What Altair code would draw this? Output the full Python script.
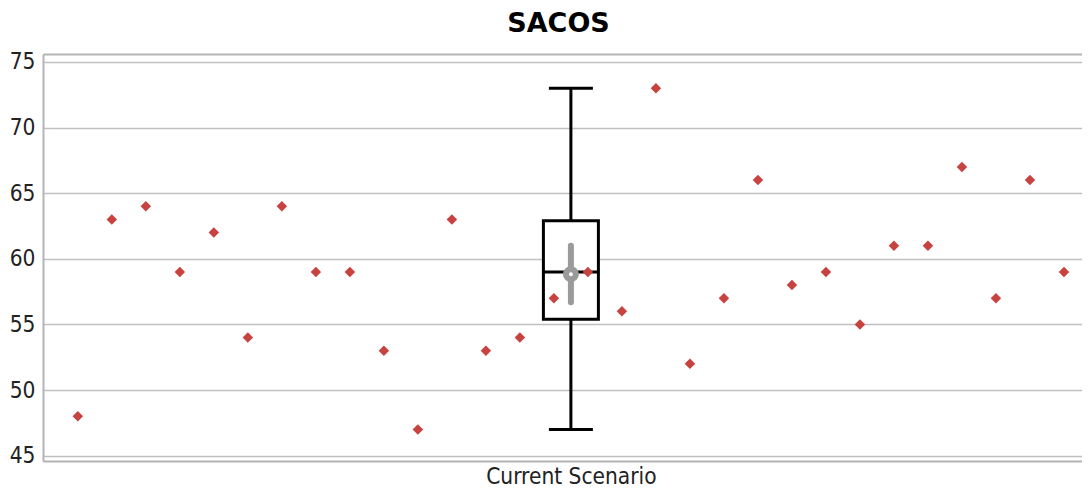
import altair as alt
import pandas as pd

# ---------------- data ----------------
title_text = "SACOS"
categories = ["Current Scenario"]
run_index = list(range(30))
sacos_values = [48, 63, 64, 59, 62, 54, 64, 59, 59, 53, 47, 63, 53, 54, 57,
                59, 56, 73, 52, 57, 66, 58, 59, 55, 61, 61, 67, 57, 66, 59]
y_ticks = [45, 50, 55, 60, 65, 70, 75]

whisker_low = [47]
q1 = [55.4]
median = [59]
q3 = [62.9]
whisker_high = [73]
mean = [58.83]
ci_low = [56.7]
ci_high = [61.0]

# ---------------- tables ----------------
center = (len(run_index) - 1) / 2
points = pd.DataFrame({"run": run_index, "value": sacos_values})
box = pd.DataFrame({
    "pos": [center], "category": categories,
    "lo": whisker_low, "q1": q1, "med": median, "q3": q3, "hi": whisker_high,
    "mean": mean, "ci_lo": ci_low, "ci_hi": ci_high,
})

LABEL_FONT = "DejaVu Sans Condensed, Liberation Sans, sans-serif"
TEXT_COLOR = "#222222"
FRAME = "#b4b4b4"

x_scale = alt.Scale(domain=[-1.024, 29.53], nice=False, zero=False, padding=0)
y_scale = alt.Scale(domain=[44.6, 75.6], nice=False, zero=False, padding=0)

x_axis_bottom = alt.Axis(values=[center], labelExpr="'" + categories[0] + "'",
                         title=None, grid=False, ticks=False, domain=True,
                         domainColor=FRAME, domainWidth=2, labelFont=LABEL_FONT,
                         labelFontSize=22.5, labelColor=TEXT_COLOR, labelPadding=4,
                         labelAngle=0, orient="bottom")
x_axis_top = alt.Axis(values=[center], labels=False, title=None, grid=False,
                      ticks=False, domain=True, domainColor=FRAME, domainWidth=2,
                      orient="top")
y_axis = alt.Axis(values=y_ticks, title=None, grid=True, gridColor="#c0c0c0",
                  gridWidth=1.5, ticks=False, domain=True, domainColor=FRAME,
                  domainWidth=2, labelFont=LABEL_FONT, labelFontSize=22.5,
                  labelColor=TEXT_COLOR, labelPadding=8)


def X(field, axis=None):
    return alt.X(field, type="quantitative", scale=x_scale, axis=axis)


def Y(field):
    return alt.Y(field, type="quantitative", scale=y_scale, axis=y_axis)


whisker = alt.Chart(box).mark_rule(color="black", strokeWidth=3).encode(
    x=X("pos", x_axis_top), y=Y("lo"), y2="hi")

box_rect = alt.Chart(box).mark_bar(size=55, fill="white", stroke="black",
                                   strokeWidth=3).encode(
    x=X("pos"), y=Y("q1"), y2="q3")

caps = alt.Chart(box).transform_fold(["lo", "hi"], as_=["end", "level"]).mark_tick(
    orient="horizontal", size=44, thickness=3, color="black", opacity=1).encode(
    x=X("pos"), y=Y("level"))

med_line = alt.Chart(box).mark_tick(
    orient="horizontal", size=55, thickness=3, color="black", opacity=1).encode(
    x=X("pos"), y=Y("med"))

pts = alt.Chart(points).mark_point(shape="diamond", filled=True, size=110,
                                   color="#c8423f", opacity=1).encode(
    x=X("run", x_axis_bottom), y=Y("value"))

ci = alt.Chart(box).mark_rule(color="#9a9a9a", strokeWidth=6, strokeCap="round").encode(
    x=X("pos"), y=Y("ci_lo"), y2="ci_hi")

mean_pt = alt.Chart(box).mark_point(shape="circle", filled=True, fill="white",
                                    stroke="#9a9a9a", strokeWidth=6, size=100,
                                    opacity=1).encode(
    x=X("pos"), y=Y("mean"))

chart = alt.layer(whisker, box_rect, caps, med_line, pts, ci, mean_pt).resolve_axis(
    x="independent"
).properties(
    width=1039,
    height=407,
    title=alt.TitleParams(title_text, font="DejaVu Sans", fontWeight="bold",
                          fontSize=27, color="black", anchor="middle", dx=-4,
                          offset=13),
    padding={"left": 1, "top": 1, "right": 0, "bottom": 0},
).configure_view(
    strokeWidth=0
).configure(background="white")

chart.save("out.html", embed_options={"renderer": "svg", "actions": False})
